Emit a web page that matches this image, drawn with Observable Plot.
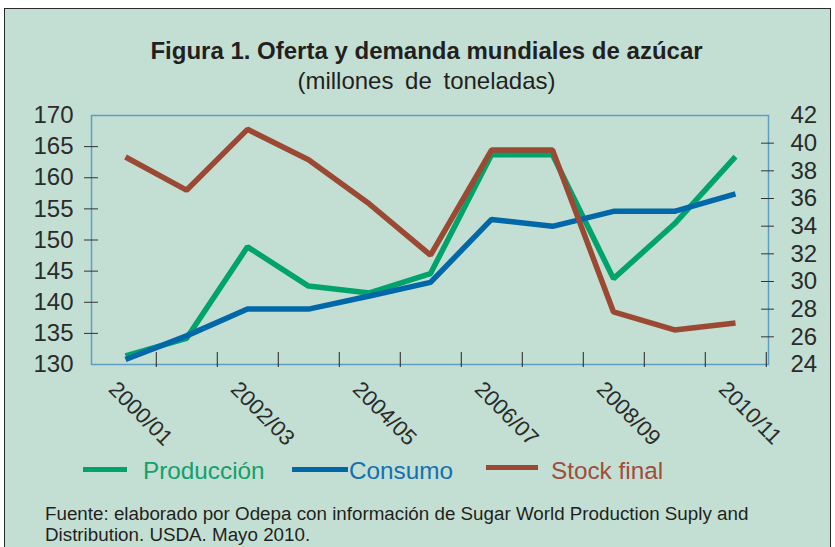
<!DOCTYPE html>
<html><head><meta charset="utf-8">
<script src="https://cdn.jsdelivr.net/npm/d3@7"></script>
<script src="https://cdn.jsdelivr.net/npm/@observablehq/plot@0.6"></script>
<style>
html,body{margin:0;padding:0;background:#fff;}
body{width:835px;height:547px;overflow:hidden;position:relative;font-family:"Liberation Sans",Arial,sans-serif;}
#panel{position:absolute;left:4px;top:8px;width:825px;height:570px;border:1.5px solid #2a2a2a;background:#c3dfd3;}
.t{position:absolute;white-space:nowrap;}
#title{left:9px;width:835px;text-align:center;top:39px;font-size:24px;line-height:24px;font-weight:bold;color:#231f20;}
#subtitle{left:9px;width:835px;text-align:center;top:69px;font-size:24px;line-height:24px;word-spacing:5px;color:#231f20;}
#chart{position:absolute;left:0;top:0;}
.sw{position:absolute;height:5px;}
.lg{position:absolute;font-size:24.3px;line-height:24px;white-space:nowrap;}
#caption{position:absolute;left:45px;top:504px;font-size:18.8px;line-height:20.5px;color:#231f20;white-space:nowrap;}
</style>
</head>
<body>
<div id="panel"></div>
<div id="title" class="t">Figura 1. Oferta y demanda mundiales de azúcar</div>
<div id="subtitle" class="t">(millones de toneladas)</div>
<div id="chart"></div>
<div id="legend"></div>
<div id="caption">Fuente: elaborado por Odepa con información de Sugar World Production Suply and<br>Distribution. USDA. Mayo 2010.</div>
<script>
const seasons = ["2000/01","2001/02","2002/03","2003/04","2004/05","2005/06","2006/07","2007/08","2008/09","2009/10","2010/11"];
const produccion = [131.4, 134.2, 148.9, 142.6, 141.5, 144.6, 163.7, 163.7, 143.8, 152.6, 163.4];
const consumo    = [130.8, 134.6, 138.9, 138.9, 141.0, 143.2, 153.3, 152.2, 154.6, 154.6, 157.4];
const stockFinal = [39.0, 36.6, 41.0, 38.8, 35.6, 31.9, 39.5, 39.5, 27.8, 26.5, 27.0];
const leftTicks  = [130, 135, 140, 145, 150, 155, 160, 165, 170];
const rightTicks = [24, 26, 28, 30, 32, 34, 36, 38, 40, 42];
const xTickLabels = ["2000/01","2002/03","2004/05","2006/07","2008/09","2010/11"];
const seriesNames  = ["Producción","Consumo","Stock final"];
const seriesColors = ["#00a36c","#0068a8","#9c4934"];
const legendText   = ["#12a06c","#1470b0","#a04d3a"];

const L = [leftTicks[0], leftTicks[leftTicks.length-1]];
const R = [rightTicks[0], rightTicks[rightTicks.length-1]];
const toLeft = v => L[0] + (v - R[0]) * (L[1] - L[0]) / (R[1] - R[0]);
const fromLeft = v => R[0] + (v - L[0]) * (R[1] - R[0]) / (L[1] - L[0]);

const rows = (arr) => seasons.map((s, i) => ({season: s, value: arr[i]}));

const W = 835, H = 547, mL = 91, mR = 67, mT = 115, mB = 183;
const step = (W - mL - mR) / seasons.length;
const txt = "#2b2b2b";

const chart = Plot.plot({
  width: W, height: H,
  marginLeft: mL, marginRight: mR, marginTop: mT, marginBottom: mB,
  style: {background: "transparent", fontFamily: "'Liberation Sans', Arial, sans-serif", overflow: "visible"},
  x: {type: "point", domain: seasons, padding: 0.5},
  y: {domain: L},
  marks: [
    Plot.frame({stroke: "#5d9fc3", strokeWidth: 1.5}),
    Plot.axisY(leftTicks.slice(1, -1), {anchor: "left", tickSize: 14, dx: 7, tickFormat: () => "", color: "#333", label: null}),
    Plot.axisY(leftTicks, {anchor: "left", tickSize: 0, tickPadding: 18, fontSize: 24, color: txt, label: null}),
    Plot.axisY(rightTicks.slice(1, -1).map(toLeft), {anchor: "right", tickSize: 13, dx: -8, tickFormat: () => "", color: "#333", label: null}),
    Plot.axisY(rightTicks.map(toLeft), {anchor: "right", tickSize: 0, tickPadding: 22, fontSize: 24, color: txt, label: null,
      tickFormat: d => String(Math.round(fromLeft(d)))}),
    Plot.axisX(seasons, {anchor: "bottom", tickSize: 15, dx: step / 2, dy: -12, tickFormat: () => "", color: "#222", label: null}),
    Plot.text(xTickLabels, {x: d => d, frameAnchor: "bottom", dy: 15, dx: -7, rotate: 45,
      textAnchor: "start", lineAnchor: "top", fontSize: 22, fill: txt}),
    Plot.line(rows(produccion), {x: "season", y: "value", stroke: seriesColors[0], strokeWidth: 5.5, strokeLinejoin: "miter", strokeLinecap: "butt"}),
    Plot.line(rows(consumo), {x: "season", y: "value", stroke: seriesColors[1], strokeWidth: 5.5, strokeLinejoin: "miter", strokeLinecap: "butt"}),
    Plot.line(rows(stockFinal), {x: "season", y: d => toLeft(d.value), stroke: seriesColors[2], strokeWidth: 5.5, strokeLinejoin: "miter", strokeLinecap: "butt"})
  ]
});
document.getElementById("chart").appendChild(chart);

// legend
const legendLayout = [
  {sw: [83, 44, 466.5], tx: 143},
  {sw: [292, 56, 467], tx: 349},
  {sw: [486, 52, 464.5], tx: 551}
];
const lg = document.getElementById("legend");
seriesNames.forEach((name, i) => {
  const p = legendLayout[i];
  const s = document.createElement("div");
  s.className = "sw";
  s.style.left = p.sw[0] + "px"; s.style.width = p.sw[1] + "px"; s.style.top = p.sw[2] + "px";
  s.style.background = seriesColors[i];
  lg.appendChild(s);
  const t = document.createElement("div");
  t.className = "lg";
  t.style.left = p.tx + "px"; t.style.top = "459px";
  t.style.color = legendText[i];
  t.textContent = name;
  lg.appendChild(t);
});
</script>
</body></html>
